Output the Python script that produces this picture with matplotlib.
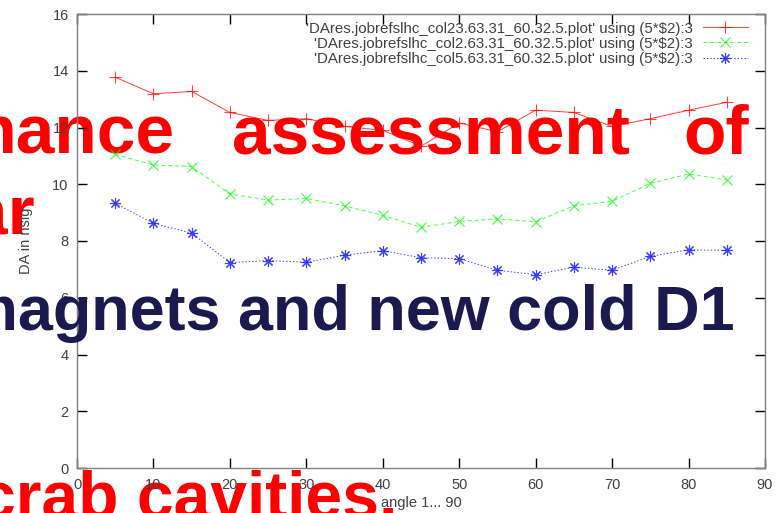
"""DA vs angle for three collimator settings, gnuplot-style, with slide text overlaid."""

import matplotlib
matplotlib.use("Agg")
import matplotlib.pyplot as plt

# Angle (5*$2) and DA in nsig for the three runs.
ANGLE = [5, 10, 15, 20, 25, 30, 35, 40, 45, 50, 55, 60, 65, 70, 75, 80, 85]
DA_COL23 = [13.77, 13.19, 13.27, 12.53, 12.25, 12.31, 12.04, 11.90, 11.34,
            12.16, 11.85, 12.61, 12.53, 12.04, 12.31, 12.61, 12.89]
DA_COL2 = [11.05, 10.68, 10.62, 9.66, 9.44, 9.50, 9.24, 8.90, 8.48,
           8.69, 8.78, 8.68, 9.24, 9.40, 10.03, 10.36, 10.15]
DA_COL5 = [9.33, 8.62, 8.28, 7.24, 7.31, 7.25, 7.50, 7.66, 7.41,
           7.38, 6.97, 6.81, 7.08, 6.97, 7.46, 7.69, 7.67]

LABELS = [
    "'DAres.jobrefslhc_col23.63.31_60.32.5.plot' using (5*$2):3",
    "'DAres.jobrefslhc_col2.63.31_60.32.5.plot' using (5*$2):3",
    "'DAres.jobrefslhc_col5.63.31_60.32.5.plot' using (5*$2):3",
]

X_TICKS = [0, 10, 20, 30, 40, 50, 60, 70, 80, 90]
Y_TICKS = [0, 2, 4, 6, 8, 10, 12, 14, 16]

W, H = 782, 513
AXIS_GREY = "#808080"
TEXT_GREY = "#404040"
RED = "#ff0000"
NAVY = "#1b1a4f"
FONT = "Liberation Sans"


def px(x, y):
    """Pixel position (from top-left) to figure fraction."""
    return x / W, 1 - y / H


fig = plt.figure(figsize=(W / 100, H / 100), dpi=100, facecolor="white")
ax = fig.add_axes([77 / W, 1 - 468 / H, (765 - 77) / W, (468 - 14) / H])
ax.set_facecolor("none")

line_kw = dict(lw=0.7, mew=0.8, alpha=0.75)
ax.plot(ANGLE, DA_COL23, color=RED, ls="-", marker="+", ms=8,
        label=LABELS[0], **line_kw)
ax.plot(ANGLE, DA_COL2, color="#00ff00", ls=(0, (4, 3)), marker="x", ms=7,
        label=LABELS[1], **line_kw)
ax.plot(ANGLE, DA_COL5, color="#0000ff", ls=(0, (1.5, 2)), marker=(8, 2, 0),
        ms=8, label=LABELS[2], **line_kw)

ax.set_xlim(0, 90)
ax.set_ylim(0, 16)
ax.set_xticks(X_TICKS)
ax.set_yticks(Y_TICKS)
for side in ax.spines.values():
    side.set_color(AXIS_GREY)
    side.set_linewidth(1.0)
ax.tick_params(direction="in", length=7, width=1, color="black",
               top=True, right=True, labelsize=10.5, labelcolor=TEXT_GREY,
               pad=6)
ax.tick_params(axis="x", pad=7)
for lab in ax.get_xticklabels() + ax.get_yticklabels():
    lab.set_fontfamily(FONT)

ax.set_xlabel("angle 1... 90", fontsize=10.5, color=TEXT_GREY,
              fontfamily=FONT, labelpad=3)
ax.set_ylabel("DA in nsig", fontsize=10.5, color=TEXT_GREY,
              fontfamily=FONT, labelpad=14)

leg = ax.legend(loc="upper right", bbox_to_anchor=(1 - 10 / 688, 1),
                frameon=False, markerfirst=False,
                prop={"family": FONT, "size": 10.8}, handlelength=3.0,
                handletextpad=0.65, labelspacing=0.08, borderaxespad=0.3,
                borderpad=0.2)
for t in leg.get_texts():
    t.set_color(TEXT_GREY)

# Slide text lying over the plot: red behind the axes, navy in front.
red_kw = dict(color=RED, fontfamily=FONT, fontweight="bold", va="baseline",
              ha="left", zorder=-1)
fig.text(*px(-46, 153), "mance", fontsize=50, **red_kw)
fig.text(*px(232, 153), "assessment", fontsize=50, **red_kw)
fig.text(*px(683, 153), "of", fontsize=50, **red_kw)
fig.text(*px(-31, 235), "ar", fontsize=50, **red_kw)
fig.text(*px(-21, 518), "crab cavities.", fontsize=47.5, **red_kw)
fig.text(*px(-38, 330), "magnets and new cold D1", fontsize=45.3, color=NAVY,
         fontfamily=FONT, fontweight="bold", va="baseline", ha="left",
         zorder=5)

fig.savefig("out.png", dpi=100, facecolor="white")
